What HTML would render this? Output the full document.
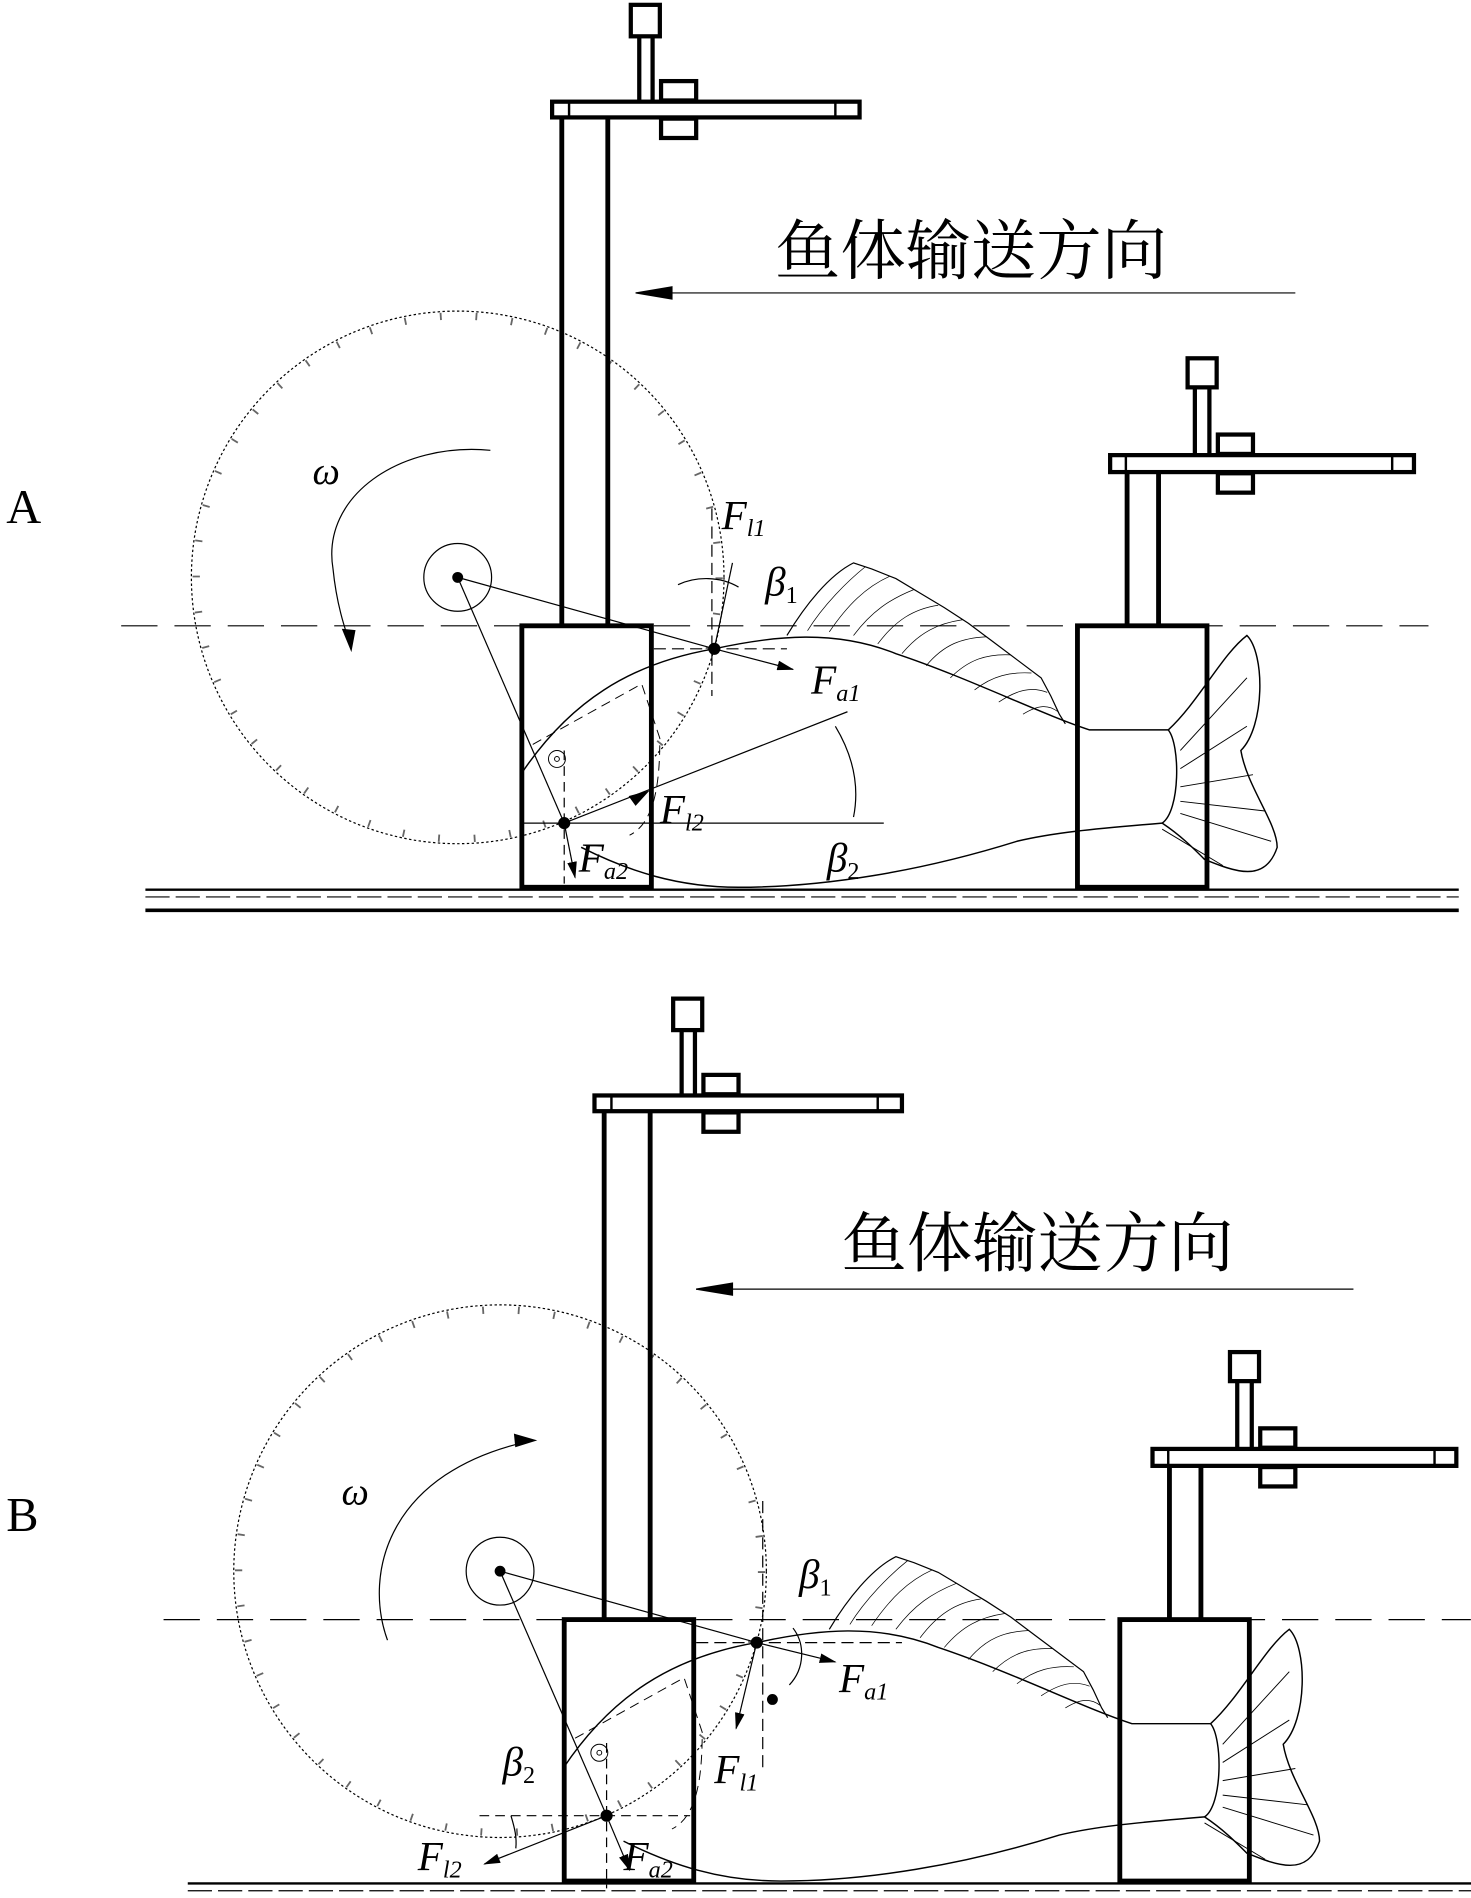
<!DOCTYPE html>
<html><head><meta charset="utf-8"><style>
html,body{margin:0;padding:0;background:#fff}
svg{display:block}
text{font-family:"Liberation Serif","Noto Serif CJK SC",serif;fill:#000}
.it{font-style:italic}
</style></head><body>
<svg width="1471" height="1898" viewBox="0 0 1215 1568" xmlns="http://www.w3.org/2000/svg">
<defs>
<marker id="ah" markerWidth="14" markerHeight="8" refX="13" refY="4" orient="auto" markerUnits="userSpaceOnUse"><path d="M0,0 L14,4 L0,8 Z" fill="#000"/></marker>
<g id="scene" fill="none" stroke="#000">
  <rect x="521" y="4" width="24" height="26" stroke-width="3.5"/>
  <line x1="528" y1="30" x2="528" y2="84" stroke-width="3.5"/>
  <line x1="539" y1="30" x2="539" y2="84" stroke-width="3.5"/>
  <rect x="456" y="84" width="254" height="13" stroke-width="3.5"/>
  <line x1="470" y1="84" x2="470" y2="97" stroke-width="2"/>
  <line x1="690" y1="84" x2="690" y2="97" stroke-width="2"/>
  <rect x="546" y="67" width="29" height="16" stroke-width="3.5"/>
  <rect x="546" y="98" width="29" height="16" stroke-width="3.5"/>
  <line x1="464" y1="97" x2="464" y2="516" stroke-width="4"/>
  <line x1="502" y1="97" x2="502" y2="516" stroke-width="4"/>
  <circle cx="378" cy="477" r="220" stroke-width="1" stroke-dasharray="2 2"/>
  <circle cx="378" cy="477" r="216" stroke-width="6" stroke-dasharray="1.5 28" opacity="0.6"/>
  <circle cx="378" cy="477" r="28" stroke-width="1"/>
  <circle cx="378" cy="477" r="4" fill="#000"/>
  <rect x="431" y="517" width="107" height="216" stroke-width="4"/>
  <rect x="890" y="517" width="107" height="216" stroke-width="4"/>
  <rect x="981" y="296" width="24" height="24" stroke-width="3.5"/>
  <line x1="987" y1="320" x2="987" y2="376" stroke-width="3.5"/>
  <line x1="999" y1="320" x2="999" y2="376" stroke-width="3.5"/>
  <rect x="917" y="376" width="251" height="14" stroke-width="3.5"/>
  <line x1="930" y1="376" x2="930" y2="390" stroke-width="2"/>
  <line x1="1150" y1="376" x2="1150" y2="390" stroke-width="2"/>
  <rect x="1006" y="359" width="29" height="16" stroke-width="3.5"/>
  <rect x="1006" y="391" width="29" height="16" stroke-width="3.5"/>
  <line x1="931" y1="390" x2="931" y2="516" stroke-width="4"/>
  <line x1="957" y1="390" x2="957" y2="516" stroke-width="4"/>
  <path d="M430,640 C470,580 520,548 590,536 C640,525 690,520 740,540 C800,560 860,590 900,603 L965,603" stroke-width="1.2"/>
  <path d="M480,700 C520,720 560,733 610,733 C680,733 760,720 840,695 C870,688 900,685 960,680" stroke-width="1.2"/>
  <path d="M965,603 C975,615 975,670 960,680" stroke-width="1.2"/>
  <path d="M965,603 C990,580 1010,540 1030,525 C1045,540 1045,600 1025,620 C1030,650 1055,680 1055,700 C1045,730 1020,720 995,710 C985,700 975,690 960,680" stroke-width="1.2"/>
  <g stroke-width="0.8">
   <line x1="975" y1="620" x2="1030" y2="560"/><line x1="975" y1="635" x2="1030" y2="600"/>
   <line x1="975" y1="650" x2="1035" y2="640"/><line x1="975" y1="662" x2="1045" y2="670"/>
   <line x1="975" y1="672" x2="1050" y2="695"/><line x1="960" y1="685" x2="1010" y2="715"/>
  </g>
  <path d="M650,525 C665,500 685,475 705,465 L720,470 L740,478 L760,490 L780,502 L800,515 L820,530 L840,545 L860,560 L868,575 L875,590 L880,598" stroke-width="1"/>
  <g stroke-width="0.6">
   <path d="M667,521 C680,500 700,480 715,468"/><path d="M685,522 C700,500 715,485 735,476"/>
   <path d="M705,525 C720,505 735,495 755,487"/><path d="M725,532 C740,512 755,503 775,500"/>
   <path d="M745,540 C760,522 775,515 795,512"/><path d="M765,550 C780,532 795,527 815,526"/>
   <path d="M785,560 C800,545 815,540 835,541"/><path d="M805,570 C820,558 835,555 852,556"/>
   <path d="M825,580 C840,570 852,567 865,572"/><path d="M845,590 C858,582 866,582 874,588"/>
  </g>
  <path d="M440,615 L530,565 L545,610 C545,650 540,680 520,690" stroke-width="0.8" stroke-dasharray="8 5"/>
  <circle cx="460" cy="627" r="7" stroke-width="0.8"/><circle cx="460" cy="627" r="2" stroke-width="0.8"/>
  <line x1="120" y1="735" x2="1205" y2="735" stroke-width="2"/>
  <line x1="120" y1="741" x2="1205" y2="741" stroke-width="1" stroke-dasharray="20 5"/>
  <line x1="120" y1="752" x2="1205" y2="752" stroke-width="3"/>
  <line x1="100" y1="517" x2="1180" y2="517" stroke-width="1" stroke-dasharray="30 14"/>
</g>
</defs>

<use href="#scene"/>
<g fill="none" stroke="#000" stroke-width="1">
  <line x1="525" y1="242" x2="1070" y2="242"/>
  <path d="M525,242 L555,237 L555,247 Z" fill="#000"/>
  <path d="M405,372 C330,365 265,410 275,470 C278,500 285,520 290,535" />
  <path d="M283,520 L290,537 L293,521 Z" fill="#000"/>
  <line x1="378" y1="477" x2="590" y2="536"/>
  <line x1="378" y1="477" x2="466" y2="680"/>
  <line x1="590" y1="536" x2="655" y2="553" marker-end="url(#ah)"/>
  <line x1="590" y1="536" x2="605" y2="465"/>
  <line x1="588" y1="420" x2="588" y2="575" stroke-dasharray="10 5"/>
  <line x1="540" y1="536" x2="650" y2="536" stroke-dasharray="10 5"/>
  <path d="M560,483 C575,476 595,476 610,485" />
  <circle cx="590" cy="536" r="4.5" fill="#000"/>
  <line x1="466" y1="680" x2="700" y2="588" />
  <path d="M520,658 L535,654 L525,665 Z" fill="#000"/>
  <line x1="430" y1="680" x2="730" y2="680"/>
  <line x1="466" y1="620" x2="466" y2="730" stroke-dasharray="8 5"/>
  <line x1="466" y1="680" x2="475" y2="725" marker-end="url(#ah)"/>
  <path d="M690,600 C705,625 710,650 705,675"/>
  <circle cx="466" cy="680" r="4.5" fill="#000"/>
</g>
<text x="5" y="432" font-size="40">A</text>
<text x="640" y="226" font-size="54">鱼体输送方向</text>
<text x="258" y="400" font-size="32" class="it">ω</text>
<text x="596" y="437" font-size="34" class="it">F<tspan font-size="20" dy="6">l1</tspan></text>
<text x="632" y="492" font-size="34" class="it">β<tspan font-size="20" font-style="normal" dy="6">1</tspan></text>
<text x="670" y="573" font-size="34" class="it">F<tspan font-size="20" dy="6">a1</tspan></text>
<text x="545" y="680" font-size="34" class="it">F<tspan font-size="20" dy="6">l2</tspan></text>
<text x="478" y="720" font-size="34" class="it">F<tspan font-size="20" dy="6">a2</tspan></text>
<text x="683" y="720" font-size="34" class="it">β<tspan font-size="20" font-style="normal" dy="6">2</tspan></text>

<use href="#scene" transform="translate(35,821)"/>
<g fill="none" stroke="#000" stroke-width="1">
  <line x1="575" y1="1065" x2="1118" y2="1065"/>
  <path d="M575,1065 L605,1060 L605,1070 Z" fill="#000"/>
  <path d="M320,1355 C300,1300 320,1215 440,1190"/>
  <path d="M425,1185 L442,1190 L426,1195 Z" fill="#000"/>
  <line x1="413" y1="1298" x2="625" y2="1357"/>
  <line x1="413" y1="1298" x2="501" y2="1500"/>
  <line x1="625" y1="1357" x2="690" y2="1373" marker-end="url(#ah)"/>
  <line x1="625" y1="1357" x2="608" y2="1428" marker-end="url(#ah)"/>
  <line x1="630" y1="1240" x2="630" y2="1460" stroke-dasharray="10 5"/>
  <line x1="575" y1="1357" x2="745" y2="1357" stroke-dasharray="10 5"/>
  <path d="M655,1345 C665,1358 665,1378 652,1392"/>
  <circle cx="625" cy="1357" r="4.5" fill="#000"/>
  <circle cx="638" cy="1404" r="4" fill="#000"/>
  <line x1="501" y1="1500" x2="400" y2="1540" marker-end="url(#ah)"/>
  <line x1="501" y1="1500" x2="520" y2="1545" marker-end="url(#ah)"/>
  <line x1="396" y1="1500" x2="570" y2="1500" stroke-dasharray="8 5"/>
  <line x1="501" y1="1440" x2="501" y2="1560" stroke-dasharray="8 5"/>
  <path d="M422,1500 C425,1510 427,1518 426,1527"/>
  <circle cx="501" cy="1500" r="4.5" fill="#000"/>
</g>
<text x="5" y="1265" font-size="40">B</text>
<text x="695" y="1046" font-size="54">鱼体输送方向</text>
<text x="282" y="1243" font-size="32" class="it">ω</text>
<text x="660" y="1312" font-size="34" class="it">β<tspan font-size="20" font-style="normal" dy="6">1</tspan></text>
<text x="693" y="1398" font-size="34" class="it">F<tspan font-size="20" dy="6">a1</tspan></text>
<text x="590" y="1473" font-size="34" class="it">F<tspan font-size="20" dy="6">l1</tspan></text>
<text x="415" y="1467" font-size="34" class="it">β<tspan font-size="20" font-style="normal" dy="6">2</tspan></text>
<text x="345" y="1545" font-size="34" class="it">F<tspan font-size="20" dy="6">l2</tspan></text>
<text x="515" y="1545" font-size="34" class="it">F<tspan font-size="20" dy="6">a2</tspan></text>
</svg>
</body></html>
